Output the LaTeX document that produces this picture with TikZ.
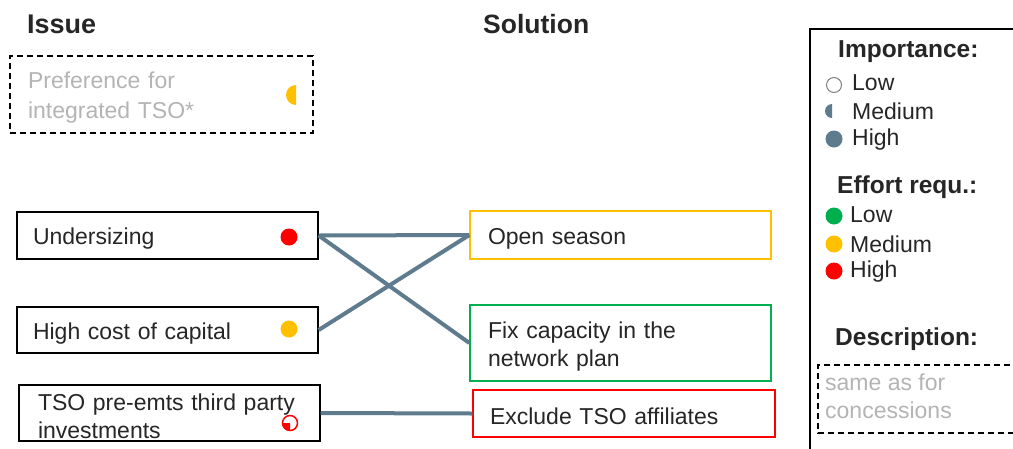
\documentclass[tikz,border=0pt]{standalone}
\usepackage{fontspec}
\setmainfont{Liberation Sans}
\definecolor{slate}{HTML}{5F7B8E}
\definecolor{myyellow}{HTML}{FFC000}
\definecolor{mygreen}{HTML}{00B050}
\definecolor{myred}{HTML}{FF0000}
\definecolor{lightgray}{HTML}{B4B4B4}
\definecolor{txt}{HTML}{262626}
\newcommand\tstrut{\rule{0pt}{23pt}}
\tikzset{
  box/.style={draw=#1, line width=1.3pt, rectangle, minimum width=301pt, align=left, inner ysep=0pt, text=txt,
    font=\fontsize{23}{28}\selectfont},
  lbl/.style={anchor=west, inner sep=0pt, text=txt, font=\fontsize{23}{28}\selectfont},
  head/.style={anchor=west, inner sep=0pt, text=txt, font=\fontsize{27}{30}\selectfont\bfseries},
  lhead/.style={anchor=west, inner sep=0pt, text=txt, font=\fontsize{24.5}{28}\selectfont\bfseries},
  dsh/.style={dash pattern=on 6pt off 4pt},
  conn/.style={draw=slate, line width=4pt},
  dot/.style={circle, fill=#1, inner sep=0pt, minimum size=17pt},
}
\begin{document}
\begin{tikzpicture}[x=1pt,y=-1pt]
\clip (0,0) rectangle (1013,448);
\fill[white] (0,0) rectangle (1013,448);

% headings
\node[head] (issue) at (27,24) {Issue};
\node[head, font=\fontsize{26.5}{30}\selectfont\bfseries] (sol) at (483,24) {Solution};

% preference box
\node[box=black, dsh, minimum height=77pt, text width=267pt, inner xsep=18pt, text=lightgray,
  font=\fontsize{23}{30}\selectfont] (pref) at (161.5,94.5)
  {\tstrut Preference for\\integrated TSO*};
\fill[myyellow] (296,95) ++(90:10) arc (90:270:10) -- cycle;

% issue boxes
\node[box=black, minimum height=47pt, text width=269pt, inner xsep=16pt] (und) at (167.5,235.5) {\tstrut Undersizing};
\node[dot=myred] (undd) at (289,237) {};
\node[box=black, minimum height=46pt, text width=269pt, inner xsep=16pt] (hcc) at (167.5,330) {\tstrut High cost of capital};
\node[dot=myyellow] (hccd) at (289,329) {};
\node[box=black, minimum height=56pt, text width=263pt, inner xsep=19pt] (tso) at (169.5,413)
  {\tstrut TSO pre-emts third party\\investments};
\draw[myred, line width=1.5pt, fill=white] (290,423) circle (7.5);
\fill[myred] (290,423) -- ++(90:7.5) arc (90:180:7.5) -- cycle;

% solution boxes
\node[box=myyellow, minimum height=48pt, text width=265pt, inner xsep=18pt] (open) at (620.5,235) {\tstrut Open season};
\node[box=mygreen, minimum height=76pt, text width=265pt, inner xsep=18pt] (fix) at (620.5,343) {\tstrut Fix capacity in the\\network plan};
\node[box=myred, minimum height=47pt, text width=268pt, inner xsep=17pt] (excl) at (624,413.5) {\tstrut Exclude TSO affiliates};

% connectors
\draw[conn] (und.east) -- (open.west);
\draw[conn] (und.east) -- (fix.west);
\draw[conn] (hcc.east) -- (open.west);
\draw[conn] (tso.east) -- (excl.west);

% legend
\draw[black, line width=1.3pt] (810,460) -- (810,29) -- (1030,29);
\node[lhead] (imp) at (838,52) {Importance:};
\draw[gray, line width=1pt] (834,85) circle (7.5);
\node[lbl] (implow) at (852,83) {Low};
\fill[slate] (832,111) ++(90:7) arc (90:270:7) -- cycle;
\node[lbl] (impmed) at (852,111) {Medium};
\node[dot=slate, minimum size=17pt] (imphd) at (834,139) {};
\node[lbl] (imphigh) at (852,140) {High};

\node[lhead] (eff) at (837,187) {Effort requ.:};
\node[dot=mygreen] (e1) at (834,216) {};
\node[lbl] (efflow) at (850,215) {Low};
\node[dot=myyellow] (e2) at (834,244) {};
\node[lbl] (effmed) at (850,244) {Medium};
\node[dot=myred] (e3) at (834,271) {};
\node[lbl] (effhigh) at (850,272) {High};

\node[lhead] (desc) at (835,339) {Description:};
\draw[black, line width=1.3pt, dsh] (1030,365) -- (818,365) -- (818,433) -- (1030,433);
\node[lbl, text=lightgray, align=left, anchor=north west] (desct) at (825,374) {same as for\\concessions};
\end{tikzpicture}
\end{document}
